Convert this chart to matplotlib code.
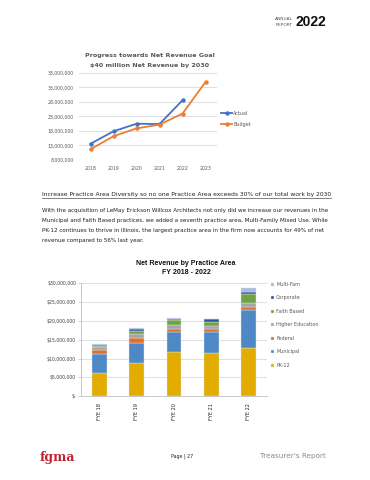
import matplotlib
matplotlib.use('Agg')
import matplotlib.pyplot as plt
import numpy as np
from matplotlib.lines import Line2D

W, H = 370, 480

# line chart data (net revenue, $)
years = ['2018', '2019', '2020', '2021', '2022', '2023']
actual = [13.6e6, 17.9e6, 20.5e6, 20.4e6, 28.6e6]
budget = [11.7e6, 16.2e6, 18.9e6, 20.2e6, 24.0e6, 34.9e6]

# stacked bar data ($ millions)
fy_labels = ['FYE 18', 'FYE 19', 'FYE 20', 'FYE 21', 'FYE 22']
pk12 = [6.2, 8.8, 11.8, 11.5, 12.9]
municipal = [5.0, 5.4, 5.25, 5.5, 10.0]
federal = [1.1, 1.3, 0.7, 0.85, 0.8]
higher_ed = [0.8, 1.0, 1.15, 0.65, 1.05]
faith = [0.2, 0.8, 1.25, 1.3, 2.3]
corporate = [0.4, 0.5, 0.4, 0.7, 0.6]
multi_fam = [0.2, 0.2, 0.2, 0.0, 1.0]


def px(x, y):
    # pixel coords (top-left origin) -> figure fraction
    return x / W, 1 - y / H


def ax_rect(left, top, right, bottom):
    return [left / W, 1 - bottom / H, (right - left) / W, (bottom - top) / H]


fig = plt.figure(figsize=(W / 100, H / 100), dpi=100)
fig.patch.set_facecolor('white')

# header
fig.text(*px(293, 19.5), 'ANNUAL', fontsize=3.2, color='#555555', ha='right', va='center')
fig.text(*px(293, 24.5), 'REPORT', fontsize=3.2, color='#555555', ha='right', va='center')
fig.text(*px(295, 22.5), '2022', fontsize=10, fontweight='bold', color='#111111',
         ha='left', va='center', family='Liberation Sans')

# ---- line chart ----
ax1 = fig.add_axes(ax_rect(79, 73, 217, 160))
x = np.arange(len(years))
ax1.plot(x[:len(actual)], actual, '-o', color='#4472C4', lw=1.3, ms=2.2, label='Actual')
ax1.plot(x, budget, '-o', color='#ED7D31', lw=1.3, ms=2.2, label='Budget')
ax1.set_xlim(-0.5, len(years) - 0.5)
ax1.set_ylim(8e6, 38e6)
ax1.set_yticks(np.arange(8e6, 38.1e6, 5e6))
ax1.set_yticklabels([f'{int(v):,}' for v in np.arange(8e6, 38.1e6, 5e6)])
ax1.set_xticks(x)
ax1.set_xticklabels(years)
ax1.grid(axis='y', color='#D9D9D9', lw=0.6)
ax1.set_axisbelow(True)
for s in ax1.spines.values():
    s.set_visible(False)
ax1.tick_params(length=0, labelsize=3.3, labelcolor='#595959', pad=4)
ax1.legend(loc='center left', bbox_to_anchor=(1.0, 0.47), frameon=False, fontsize=3.5,
           labelcolor='#595959', handlelength=2.2, handletextpad=0.2, labelspacing=1.2)
fig.text(*px(150, 56), 'Progress towards Net Revenue Goal', fontsize=4.6, fontweight='bold',
         color='#595959', ha='center', va='center')
fig.text(*px(150, 65.5), '$40 million Net Revenue by 2030', fontsize=4.6, fontweight='bold',
         color='#595959', ha='center', va='center')

# ---- paragraph ----
head = fig.text(*px(42, 196), 'Increase Practice Area Diversity so no one Practice Area exceeds 30% of our total work by 2030',
                fontsize=4.3, color='#222222', ha='left', va='baseline')
para = ['With the acquisition of LeMay Erickson Willcox Architects not only did we increase our revenues in the',
        'Municipal and Faith Based practices, we added a seventh practice area, Multi-Family Mixed Use. While',
        'PK-12 continues to thrive in Illinois, the largest practice area in the firm now accounts for 49% of net',
        'revenue compared to 56% last year.']
for i, line in enumerate(para):
    fig.text(*px(42, 212 + i * 10), line, fontsize=4.05, color='#222222', ha='left', va='baseline')

# ---- stacked bar chart ----
ax2 = fig.add_axes(ax_rect(81, 283, 267, 396.3))
series = [('PK-12', pk12, '#E2AC00'), ('Municipal', municipal, '#4E89C6'),
          ('Federal', federal, '#E0702C'), ('Higher Education', higher_ed, '#A5A5A5'),
          ('Faith Based', faith, '#6FA343'), ('Corporate', corporate, '#2E5597'),
          ('Multi-Fam', multi_fam, '#A8B9E2')]
xb = np.arange(len(fy_labels))
bottom = np.zeros(len(fy_labels))
for name, vals, col in series:
    v = np.array(vals) * 1e6
    ax2.bar(xb, v, 0.4, bottom=bottom, color=col, label=name, edgecolor='#DCE6F2', lw=0.3)
    bottom += v
ax2.set_xlim(-0.5, len(fy_labels) - 0.5)
ax2.set_ylim(0, 30e6)
ax2.set_yticks(np.arange(0, 30.1e6, 5e6))
ax2.set_yticklabels(['$-'] + [f'${int(v):,}' for v in np.arange(5e6, 30.1e6, 5e6)])
ax2.set_xticks(xb)
ax2.set_xticklabels(fy_labels, rotation=90)
ax2.grid(axis='y', color='#D9D9D9', lw=0.6)
ax2.set_axisbelow(True)
for k in ['top', 'right']:
    ax2.spines[k].set_visible(False)
for k in ['left', 'bottom']:
    ax2.spines[k].set_color('#BFBFBF')
    ax2.spines[k].set_linewidth(0.6)
ax2.tick_params(axis='y', length=2, width=0.5, color='#BFBFBF', labelsize=3.3, labelcolor='#404040', pad=1.5)
ax2.tick_params(axis='x', length=0, labelsize=3.6, labelcolor='#222222', pad=5)
h, l = ax2.get_legend_handles_labels()
ax2.legend(h[::-1], l[::-1], loc='center left', bbox_to_anchor=(1.0, 0.63), frameon=False,
           fontsize=3.5, labelcolor='#595959', handlelength=0.6, handleheight=0.6,
           handletextpad=0.4, labelspacing=1.75)
fig.text(*px(186, 263.5), 'Net Revenue by Practice Area', fontsize=5, fontweight='bold',
         color='#111111', ha='center', va='center', family='Liberation Sans')
fig.text(*px(186, 272.5), 'FY 2018 - 2022', fontsize=5, fontweight='bold',
         color='#111111', ha='center', va='center', family='Liberation Sans')

# ---- footer ----
fig.text(*px(40, 457), 'fgma', fontsize=9, fontweight='bold', color='#C0202F', family='DejaVu Serif',
         ha='left', va='center')
fig.text(*px(182, 456), 'Page | 27', fontsize=3.4, color='#222222', ha='center', va='center')
fig.text(*px(326, 456), "Treasurer's Report", fontsize=5.2, color='#8C8C8C', ha='right', va='center')

# underline the heading line
fig.canvas.draw()
bb = head.get_window_extent().transformed(fig.transFigure.inverted())
yline = bb.y0 - 1.2 / H
fig.add_artist(Line2D([bb.x0, bb.x1], [yline, yline], transform=fig.transFigure,
                      color='#222222', lw=0.4))

fig.savefig('out.png', dpi=100)
